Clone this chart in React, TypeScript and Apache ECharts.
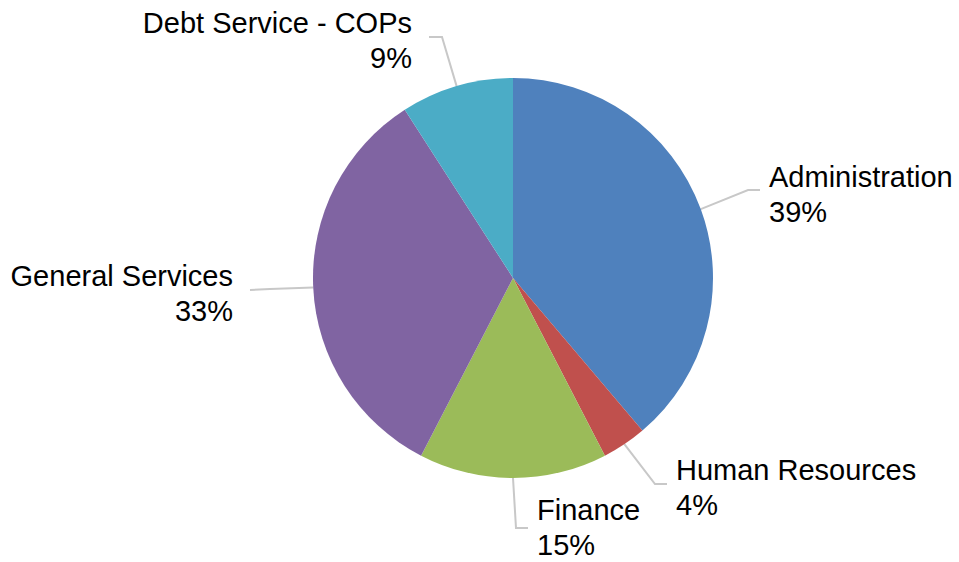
import React, { useEffect, useRef } from "react";
import * as echarts from "echarts";

const categories = ["Administration", "Human Resources", "Finance", "General Services", "Debt Service - COPs"];
const values = [38.8, 3.6, 15.2, 33.3, 9.1];
const colors = ["#4F81BD", "#C0504D", "#9BBB59", "#8064A2", "#4BACC6"];

// label anchor placements (x, y middle, alignment) and leader-line bends
const labelPlacement = [
  { x: 769, y: 194, align: "left", bend: [[748, 190], [760, 190]] },
  { x: 676, y: 487, align: "left", bend: [[655, 484], [667, 484]] },
  { x: 537, y: 527, align: "left", bend: [[516, 528], [528, 528]] },
  { x: 233, y: 293, align: "right", bend: [[270, 289], [250, 290]] },
  { x: 412, y: 40, align: "right", bend: [[442, 37], [429, 37]] },
];

export default function App() {
  const ref = useRef<HTMLDivElement>(null);
  useEffect(() => {
    if (!ref.current) return;
    const chart = echarts.init(ref.current, undefined, { renderer: "svg" });
    chart.setOption({
      animation: false,
      backgroundColor: "#ffffff",
      series: [
        {
          type: "pie",
          center: [513, 278],
          radius: 200,
          startAngle: 90,
          clockwise: true,
          percentPrecision: 0,
          avoidLabelOverlap: false,
          data: categories.map((name, i) => ({
            name,
            value: values[i],
            itemStyle: { color: colors[i] },
          })),
          itemStyle: { borderWidth: 0 },
          label: {
            show: true,
            formatter: "{b}\n{d}%",
            fontFamily: "Liberation Sans, Arial, sans-serif",
            fontSize: 29,
            lineHeight: 35,
            color: "#000000",
          },
          labelLine: {
            show: true,
            length: 20,
            length2: 10,
            lineStyle: { color: "#c8c8c8", width: 2 },
          },
          labelLayout: (params: any) => {
            const p = labelPlacement[params.dataIndex];
            const start = params.labelLinePoints ? params.labelLinePoints[0] : p.bend[0];
            return {
              x: p.x,
              y: p.y,
              align: p.align,
              verticalAlign: "middle",
              labelLinePoints: [start, p.bend[0], p.bend[1]],
            };
          },
        },
      ],
    });
    return () => chart.dispose();
  }, []);
  return (
    <div
      ref={ref}
      style={{ position: "fixed", left: 0, top: 0, width: 959, height: 562 }}
    />
  );
}
